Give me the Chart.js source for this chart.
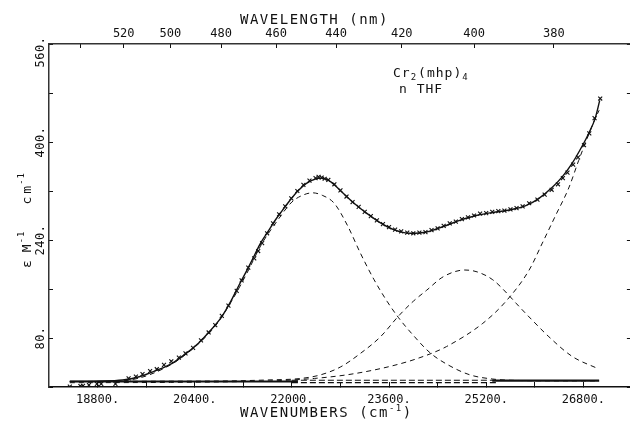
<!DOCTYPE html>
<html>
<head>
<meta charset="utf-8">
<script src="https://cdn.jsdelivr.net/npm/chart.js@4.4.0/dist/chart.umd.min.js"></script>
<style>
  html, body { margin: 0; padding: 0; background: #fff; }
  #wrap { width: 635px; height: 422px; }
</style>
</head>
<body>
<div id="wrap"><canvas id="spectrum" width="635" height="422"></canvas></div>
<script>
// measured points (x = wavenumber cm-1, eps)
const markerWn = [18343, 18517, 18560, 18658, 18789, 18860, 19094, 19311, 19431, 19540, 19665, 19775, 19894, 20014, 20139, 20248, 20373,
  20503, 20629, 20738, 20846, 20955, 21091, 21172, 21282, 21380, 21445, 21510, 21592, 21690, 21790, 21890, 21990, 22090, 22190, 22290, 22390,
  22440, 22490, 22540, 22600, 22700, 22800, 22900, 23000, 23100, 23200, 23300, 23400, 23500, 23600, 23700, 23800, 23900, 24000, 24100, 24200,
  24300, 24400, 24500, 24600, 24700, 24800, 24900, 25000, 25100, 25200, 25300, 25400, 25500, 25600, 25700, 25800, 25908, 26044, 26163, 26278,
  26382, 26463, 26539, 26632, 26713, 26811, 26898, 26985, 27078];
const markerEps = [0.5, 1.6, 1.8, 3, 5, 5, 5, 14, 17, 21, 26, 29, 36, 42, 48, 55, 64,
  76, 89, 101, 116, 133, 157, 174, 195, 210, 222, 235, 251, 267, 282, 295, 308, 320, 330, 337, 341,
  343, 342, 340, 338, 331, 321, 311, 302, 294, 286, 279, 272, 266, 261, 257, 254, 252, 251, 252, 253,
  256, 259, 263, 267, 270, 274, 277, 280, 283, 284, 286, 287, 288, 290, 292, 295, 300, 306, 314, 322,
  331, 341, 350, 363, 375, 395, 414, 439, 471];

// fitted sum (solid)
const fitWn = [18343, 18800, 19213, 19486, 19758, 20029, 20248, 20465, 20629, 20846, 21000, 21118, 21282, 21363, 21473, 21608, 21717, 21826,
  21963, 22098, 22234, 22370, 22506, 22642, 22806, 23024, 23241, 23459, 23677, 23949, 24220, 24493, 24765, 25037, 25309, 25580, 25853,
  26070, 26289, 26452, 26615, 26779, 26888, 26996, 27070];
const fitEps = [9, 9.5, 11.4, 16.8, 26.7, 38.7, 54, 72, 89, 115, 141, 164, 195, 211, 233, 254, 271, 286,
  304, 320, 332, 339, 341, 335, 320, 300, 283, 268, 257, 251, 253, 262, 272, 280, 285, 289, 296,
  308, 326, 343, 365, 393, 414, 439, 468];

// gaussian components (dashed)
const band1Wn = [18343, 19000, 19500, 20000, 20250, 20500, 20750, 21000, 21250, 21500, 21750, 22000, 22200, 22343, 22500, 22697, 22914,
  23131, 23349, 23567, 23758, 24003, 24274, 24547, 24927, 25309, 25800, 26500, 27060];
const band1Eps = [9, 9, 15, 36, 53, 74, 101, 139, 184, 233, 270, 302, 314, 317, 313, 300, 264,
  218, 176, 140, 113, 84, 56, 37.5, 20, 13, 10.5, 10, 10];

const band2Wn = [18343, 20000, 21000, 21600, 22152, 22479, 22806, 23131, 23459, 23758, 24000, 24220, 24493, 24846, 25050, 25309, 25580,
  25690, 25950, 26233, 26615, 27040];
const band2Eps = [9, 9.5, 10, 11.5, 14, 20, 33, 55, 82, 116, 140, 158, 180, 191, 188, 175, 149,
  137, 110, 82, 50, 30];

const band3Wn = [18343, 20000, 21000, 21700, 22370, 22914, 23459, 23894, 24110, 24302, 24547, 25145, 25526, 25908, 26125, 26343, 26560,
  26724, 26860, 26969, 27061];
const band3Eps = [7, 7.5, 8.5, 10, 14, 20, 30, 41, 48, 55, 66, 104, 140, 191, 235, 280, 325,
  370, 405, 432, 452];

// baseline pieces
const baseWn = [18343, 22100, 22101, 25300, 27060];
const baseEps = [9, 9, null, 10.5, 10.5];
const baseDashWn = [22000, 25400];
const baseDashLo = [7, 7];
const baseDashHi = [11, 11];

// axes
const bottomTickWn = [18800, 19600, 20400, 21200, 22000, 22800, 23600, 24400, 25200, 26000, 26800];
const bottomLabelWn = [18800, 20400, 22000, 23600, 25200, 26800];
const topTickNm = [540, 520, 500, 480, 460, 440, 420, 400, 380];
const topLabelNm = [520, 500, 480, 460, 440, 420, 400, 380];
const yTickVals = [0, 80, 160, 240, 320, 400, 480, 560];
const yLabelVals = [80, 240, 400, 560];

const FONT = '"DejaVu Sans Mono", monospace';
const INK = '#111';

function pts(xs, ys) {
    return xs.map((x, i) => ({ x: x, y: ys[i] }));
}

function curve(xs, ys, dash, width) {
    return {
        data: pts(xs, ys),
        borderColor: INK,
        borderWidth: width,
        borderDash: dash,
        pointRadius: 0,
        fill: false,
        cubicInterpolationMode: 'monotone',
        spanGaps: false
    };
}

// draw a list of [text, dx, dy, size] runs starting at 0,0 in current transform
function runs(ctx, list) {
    let x = 0;
    list.forEach(r => {
        ctx.font = r[3] + 'px ' + FONT;
        ctx.fillText(r[0], x + r[1], r[2]);
        x += r[1] + ctx.measureText(r[0]).width;
    });
}

const paperText = {
    id: 'paperText',
    afterDraw(chart) {
        const ctx = chart.ctx;
        const ys = chart.scales.y;
        ctx.save();
        ctx.fillStyle = INK;
        ctx.textBaseline = 'alphabetic';
        ctx.letterSpacing = '1.5px';

        // top title
        ctx.font = '14px ' + FONT;
        ctx.textAlign = 'left';
        ctx.fillText('WAVELENGTH (nm)', 240, 24);

        // bottom title
        ctx.save();
        ctx.translate(240, 417);
        runs(ctx, [['WAVENUMBERS (cm', 0, 0, 14], ['-1', 0, -6, 9], [')', 0, 0, 14]]);
        ctx.restore();

        // y tick labels, rotated
        ctx.letterSpacing = '0.5px';
        ctx.font = '12px ' + FONT;
        ctx.textAlign = 'center';
        ctx.textBaseline = 'middle';
        yLabelVals.forEach(v => {
            let py = ys.getPixelForValue(v);
            if (v === 560) py += 8;
            ctx.save();
            ctx.translate(41, py);
            ctx.rotate(-Math.PI / 2);
            ctx.fillText(v + '.', 0, 0);
            ctx.restore();
        });

        // y title
        ctx.letterSpacing = '1px';
        ctx.textAlign = 'left';
        ctx.textBaseline = 'alphabetic';
        ctx.save();
        ctx.translate(31, 268);
        ctx.rotate(-Math.PI / 2);
        runs(ctx, [['\u03b5', 0, 0, 13], ['M', 7, 0, 13], ['-1', 0, -7, 9], ['c', 26, 0, 13], ['m', 2, 0, 13], ['-1', 0, -7, 9]]);
        ctx.restore();

        // sample annotation
        ctx.save();
        ctx.translate(393, 77);
        runs(ctx, [['Cr', 0, 0, 13], ['2', 0, 3, 9], ['(mhp)', 1, 0, 13], ['4', 0, 3, 9]]);
        ctx.restore();
        ctx.font = '13px ' + FONT;
        ctx.fillText('n THF', 399, 93);

        ctx.restore();
    }
};

const tickFont = { family: FONT, size: 12 };

new Chart(document.getElementById('spectrum'), {
    type: 'line',
    data: {
        datasets: [
            {
                data: pts(markerWn, markerEps),
                showLine: false,
                pointStyle: 'crossRot',
                pointRadius: 2.8,
                pointBorderWidth: 1.1,
                pointBorderColor: INK,
                borderColor: INK
            },
            curve(fitWn, fitEps, [], 1.4),
            curve(band1Wn, band1Eps, [5, 4], 1),
            curve(band2Wn, band2Eps, [5, 4], 1),
            curve(band3Wn, band3Eps, [5, 4], 1),
            curve(baseWn, baseEps, [], 2.2),
            curve(baseDashWn, baseDashLo, [6, 3], 1.2),
            curve(baseDashWn, baseDashHi, [6, 3], 1.2)
        ]
    },
    options: {
        responsive: false,
        animation: false,
        devicePixelRatio: 1,
        layout: { padding: 0 },
        plugins: { legend: { display: false }, tooltip: { enabled: false } },
        scales: {
            x: {
                type: 'linear',
                position: 'bottom',
                min: 18000,
                max: 27567,
                afterBuildTicks: s => { s.ticks = bottomTickWn.map(v => ({ value: v })); },
                afterFit: s => { s.height = 35; },
                ticks: {
                    autoSkip: false,
                    maxRotation: 0,
                    padding: 11,
                    color: INK,
                    font: tickFont,
                    callback: v => bottomLabelWn.includes(v) ? v + '.' : ''
                },
                grid: { drawOnChartArea: false, tickLength: -5, color: INK, lineWidth: 1 },
                border: { color: INK, width: 1.5 }
            },
            x2: {
                type: 'linear',
                position: 'top',
                min: 18000,
                max: 27567,
                afterBuildTicks: s => { s.ticks = topTickNm.map(nm => ({ value: 1e7 / nm })); },
                afterFit: s => { s.height = 44; },
                ticks: {
                    autoSkip: false,
                    maxRotation: 0,
                    padding: 7,
                    color: INK,
                    font: tickFont,
                    callback: v => {
                        const nm = Math.round(1e7 / v);
                        return topLabelNm.includes(nm) ? String(nm) : '';
                    }
                },
                grid: { drawOnChartArea: false, tickLength: -4, color: INK, lineWidth: 1 },
                border: { color: '#333', width: 1.5 }
            },
            y: {
                type: 'linear',
                position: 'left',
                min: 0,
                max: 560,
                afterBuildTicks: s => { s.ticks = yTickVals.map(v => ({ value: v })); },
                afterFit: s => { s.width = 49; },
                ticks: { display: false },
                grid: { drawOnChartArea: false, tickLength: -4, color: INK, lineWidth: 1 },
                border: { color: '#333', width: 1.5 }
            },
            y2: {
                type: 'linear',
                position: 'right',
                min: 0,
                max: 560,
                afterBuildTicks: s => { s.ticks = yTickVals.map(v => ({ value: v })); },
                afterFit: s => { s.width = 0; },
                ticks: { display: false },
                grid: { drawOnChartArea: false, tickLength: -3, color: INK, lineWidth: 1 },
                border: { display: false }
            }
        }
    },
    plugins: [paperText]
});
</script>
</body>
</html>
